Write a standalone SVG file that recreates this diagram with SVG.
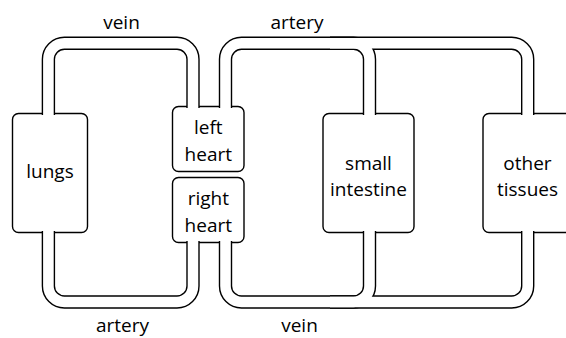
<svg xmlns="http://www.w3.org/2000/svg" width="566" height="338" viewBox="0 0 566 338">
  <style>
    .box { fill: #fff; stroke: #000; stroke-width: 1.4; }
    .label { font-family: "Open Sans", "Noto Sans", "Liberation Sans", sans-serif; font-size: 19px; fill: #000; text-anchor: middle; }
    .pipe-wall { fill: none; stroke: #000; stroke-width: 13.4; stroke-linecap: butt; stroke-linejoin: round; }
    .pipe-bore { fill: none; stroke: #fff; stroke-width: 10.6; stroke-linecap: butt; stroke-linejoin: round; }
  </style>
  <defs>
    <!-- centre lines of the vessels; each is drawn as a thick black stroke with a white stroke on top,
         ending on a whole pixel just inside the box so the box outline is opened cleanly -->
    <path id="p-pulm-vein" d="M48.4,115 V59.25 A16,16 0 0 1 64.4,43.25 H177 A16,16 0 0 1 193,59.25 V108"/>
    <path id="p-pulm-artery" d="M48.4,231 V286 A16,16 0 0 0 64.4,302 H177 A16,16 0 0 0 193,286 V241"/>
    <path id="p-artery" d="M225.5,108 V59.25 A16,16 0 0 1 241.5,43.25 H511.7 A16,16 0 0 1 527.7,59.25 V115"/>
    <path id="p-artery-branch" d="M330,43.25 H353.5 A16,16 0 0 1 369.5,59.25 V115"/>
    <path id="p-vein" d="M225.5,241 V286 A16,16 0 0 0 241.5,302 H511.7 A16,16 0 0 0 527.7,286 V231"/>
    <path id="p-vein-branch" d="M369.5,231 V286 A16,16 0 0 1 353.5,302 H330"/>
  </defs>

  <g id="lungs">
    <rect class="box" x="12.5" y="113.5" width="75" height="119" rx="6"/>
    <text class="label" x="50" y="178">lungs</text>
  </g>
  <g id="left-heart">
    <rect class="box" x="172.5" y="106.5" width="71.5" height="65" rx="6"/>
    <text class="label" x="208.3" y="134">left</text>
    <text class="label" x="208.3" y="161">heart</text>
  </g>
  <g id="right-heart">
    <rect class="box" x="172.5" y="177.5" width="71.5" height="65" rx="6"/>
    <text class="label" x="208.3" y="205">right</text>
    <text class="label" x="208.3" y="232">heart</text>
  </g>
  <g id="small-intestine">
    <rect class="box" x="323" y="113.5" width="91" height="119" rx="6"/>
    <text class="label" x="368.5" y="170">small</text>
    <text class="label" x="368.5" y="196">intestine</text>
  </g>
  <g id="other-tissues">
    <rect class="box" x="483" y="113.5" width="120" height="119" rx="6"/>
    <text class="label" x="527.5" y="170">other</text>
    <text class="label" x="527.5" y="196">tissues</text>
  </g>

  <g id="connectors">
    <use href="#p-pulm-vein" class="pipe-wall"/>
    <use href="#p-pulm-artery" class="pipe-wall"/>
    <use href="#p-artery" class="pipe-wall"/>
    <use href="#p-artery-branch" class="pipe-wall"/>
    <use href="#p-vein" class="pipe-wall"/>
    <use href="#p-vein-branch" class="pipe-wall"/>
    <use href="#p-pulm-vein" class="pipe-bore"/>
    <use href="#p-pulm-artery" class="pipe-bore"/>
    <use href="#p-artery" class="pipe-bore"/>
    <use href="#p-artery-branch" class="pipe-bore"/>
    <use href="#p-vein" class="pipe-bore"/>
    <use href="#p-vein-branch" class="pipe-bore"/>
    <text class="label" x="121.5" y="29">vein</text>
    <text class="label" x="297" y="29">artery</text>
    <text class="label" x="122.5" y="332">artery</text>
    <text class="label" x="299.5" y="332">vein</text>
  </g>
</svg>
